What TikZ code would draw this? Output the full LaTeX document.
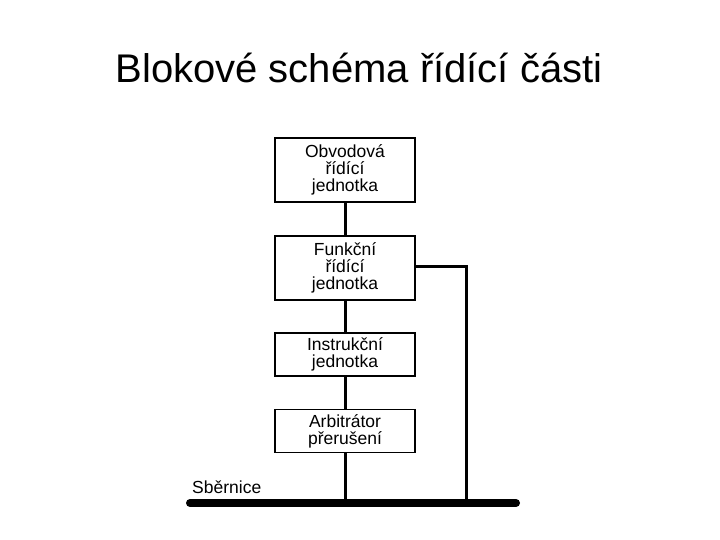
\documentclass[tikz,border=0pt]{standalone}
\usepackage{fontspec}
\setmainfont{Liberation Sans}
\begin{document}
\begin{tikzpicture}[x=1pt,y=-1pt,
  blok/.style={draw, line width=1.6pt, minimum width=140pt, align=center,
    font=\fontsize{17.5}{17}\selectfont, inner sep=0pt},
  spoj/.style={line width=3pt}]
\useasboundingbox (0,0) rectangle (720,540);
\node[font=\fontsize{40}{42}\selectfont] (title) at (359,68) {Blokové schéma řídící části};
\node[blok, minimum height=64pt] (b1) at (345,170) {Obvodová\\řídící\\jednotka};
\node[blok, minimum height=64pt] (b2) at (345,268) {Funkční\\řídící\\jednotka};
\node[blok, minimum height=43pt] (b3) at (345,354.5) {Instrukční\\jednotka};
\node[blok, minimum height=43pt] (b4) at (345,431) {Arbitrátor\\přerušení};
\coordinate (busL) at (190,503);
\coordinate (busR) at (516,503);
\coordinate (j) at (466,503);
\draw[line width=8pt, line cap=round] (busL) -- (busR);
\node[anchor=base west, font=\fontsize{17.5}{17}\selectfont, inner sep=0pt] (lbl) at (192,493) {Sběrnice};
\draw[spoj] (b1.south) -- (b2.north);
\draw[spoj] (b2.south) -- (b3.north);
\draw[spoj] (b3.south) -- (b4.north);
\draw[spoj] (b4.south) -- (b4.south |- busL);
\draw[spoj] ([yshift=2pt]b2.east) -| (j);
\end{tikzpicture}
\end{document}
